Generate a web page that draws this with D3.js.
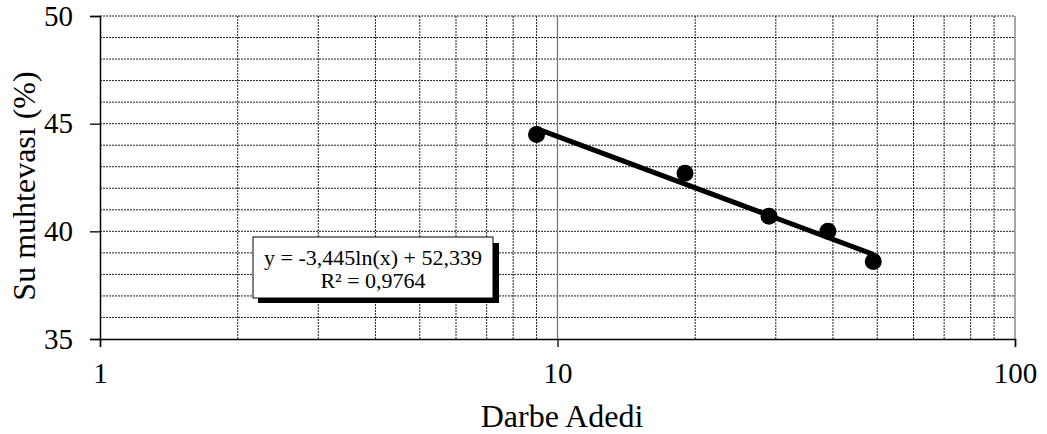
<!DOCTYPE html>
<html>
<head>
<meta charset="utf-8">
<script src="https://cdn.jsdelivr.net/npm/d3@7"></script>
<style>
  body { margin: 0; background: #fff; }
  text { font-family: "Liberation Serif", "Times New Roman", serif; fill: #000; }
</style>
</head>
<body>
<svg width="1047" height="434"></svg>
<script>
// data
var blows = [9, 19, 29, 39, 49]
var moisture = [44.5, 42.7, 40.7, 40.0, 38.6]
var xTicks = [1, 10, 100]
var yTicks = [35, 40, 45, 50]
var trendA = -3.445, trendB = 52.339
var eqLabel = ["y = -3,445ln(x) + 52,339", "R² = 0,9764"]

var svg = d3.select("svg")
var plotLeft = 100, plotRight = 1015, plotTop = 16, plotBottom = 339

var xScale = d3.scaleLog().domain([1, 100]).range([plotLeft, plotRight])
var yScale = d3.scaleLinear().domain([35, 50]).range([plotBottom, plotTop])

// minor grid (every integer x between decades, every 1% in y)
var xMinor = []
;[1, 10].forEach(d => { for (var i = 2; i <= 9; i++) xMinor.push(d * i) })
var yMinor = d3.range(36, 51)

var grid = svg.append("g")
grid.selectAll("line.hy").data(yMinor).enter().append("line")
    .attr("x1", plotLeft).attr("x2", plotRight)
    .attr("y1", d => yScale(d)).attr("y2", d => yScale(d))
    .attr("stroke", "#222").attr("stroke-width", 1).attr("stroke-dasharray", "2,1")
grid.selectAll("line.vx").data(xMinor).enter().append("line")
    .attr("y1", plotTop).attr("y2", plotBottom)
    .attr("x1", d => xScale(d)).attr("x2", d => xScale(d))
    .attr("stroke", "#222").attr("stroke-width", 1).attr("stroke-dasharray", "2,1")
grid.selectAll("line.vmaj").data([10, 100]).enter().append("line")
    .attr("y1", plotTop).attr("y2", plotBottom)
    .attr("x1", d => xScale(d)).attr("x2", d => xScale(d))
    .attr("stroke", "#777").attr("stroke-width", 1.3)

// axes
var xAxis = d3.axisBottom(xScale).tickValues(xTicks).tickFormat(d3.format("d")).tickSize(8).tickPadding(15)
svg.append("g").attr("id", "xAxis")
    .attr("transform", "translate(0," + plotBottom + ")")
    .call(xAxis)
    .call(g => g.select(".domain").attr("stroke", "#000").attr("stroke-width", 1.5))
    .call(g => g.selectAll(".tick line").attr("stroke", "#000").attr("stroke-width", 1.3))
    .call(g => g.selectAll(".tick text").attr("font-size", 29).attr("font-family", "Liberation Serif"))

var yAxis = d3.axisLeft(yScale).tickValues(yTicks).tickSize(10).tickPadding(17)
svg.append("g").attr("id", "yAxis")
    .attr("transform", "translate(" + plotLeft + ",0)")
    .call(yAxis)
    .call(g => g.select(".domain").attr("stroke", "#000").attr("stroke-width", 1.5))
    .call(g => g.selectAll(".tick line").attr("stroke", "#000").attr("stroke-width", 1.3))
    .call(g => g.selectAll(".tick text").attr("font-size", 29).attr("font-family", "Liberation Serif"))

// axis titles
svg.append("text")
    .attr("x", 562).attr("y", 427)
    .attr("text-anchor", "middle").attr("font-size", 32)
    .text("Darbe Adedi")
svg.append("text")
    .attr("transform", "translate(35,186) rotate(-90)")
    .attr("text-anchor", "middle").attr("font-size", 32)
    .text("Su muhtevası (%)")

// trend line
var trendData = [d3.min(blows), d3.max(blows)].map(x => ({x: x, y: trendA * Math.log(x) + trendB}))
svg.append("path")
    .datum(trendData)
    .attr("d", d3.line().x(d => xScale(d.x)).y(d => yScale(d.y)))
    .attr("stroke", "#000").attr("stroke-width", 5).attr("fill", "none")

// points
svg.append("g").selectAll("circle")
    .data(blows.map((b, i) => ({x: b, y: moisture[i]})))
    .enter().append("circle")
    .attr("r", 8.5)
    .attr("cx", d => xScale(d.x))
    .attr("cy", d => yScale(d.y))
    .attr("fill", "#000")

// equation box
var box = svg.append("g").attr("transform", "translate(253,237)")
box.append("rect").attr("x", 5).attr("y", 6).attr("width", 241).attr("height", 60).attr("fill", "#000")
box.append("rect").attr("x", 0).attr("y", 0).attr("width", 240).attr("height", 61)
    .attr("fill", "#fff").attr("stroke", "#000").attr("stroke-width", 1)
box.selectAll("text").data(eqLabel).enter().append("text")
    .attr("x", 120).attr("y", (d, i) => 28 + i * 23)
    .attr("text-anchor", "middle").attr("font-size", 22)
    .text(d => d)
</script>
</body>
</html>
